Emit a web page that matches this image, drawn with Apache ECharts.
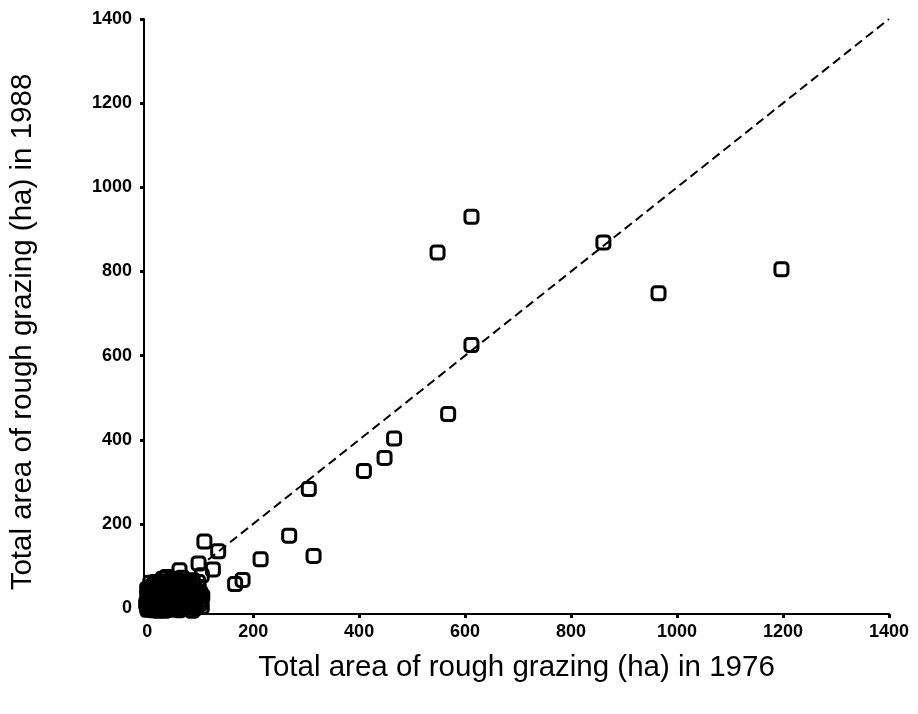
<!DOCTYPE html>
<html>
<head>
<meta charset="utf-8">
<title>Rough grazing 1976 vs 1988</title>
<script src="https://cdn.jsdelivr.net/npm/echarts@6/dist/echarts.min.js"></script>
<style>
  html, body { margin: 0; padding: 0; background: #fff; }
  #chart { width: 918px; height: 714px; }
</style>
</head>
<body>
<div id="chart"></div>
<script>
// Total area of rough grazing per holding (ha): 1976 (x) against 1988 (y)
const area1976 = [
  108, 134, 214, 268, 314, 305, 409, 448, 466, 568, 612, 548, 612, 861, 965, 1197,
  166, 180, 124, 97, 61, 103, 100, 96, 103, 100, 37, 15,
  0, 3, 6, 10, 12, 15, 18, 20, 22, 25, 28, 30, 32, 35, 38, 40, 42, 45, 48, 50,
  52, 55, 58, 60, 62, 65, 68, 70, 72, 75, 78, 80, 82, 85, 88, 90, 92, 95,
  5, 8, 12, 18, 24, 30, 2, 0, 6, 15, 44, 55, 66, 76, 86, -2, 0, 26, 36, 48,
  58, 70, 80, 90, 10, 40,
  4, 9, 14, 16, 21, 27, 33, 36, 41, 46, 51, 56, 61, 63, 67, 71, 74, 79, 83, 87,
  91, 94, 97, 2, 7, 11, 19, 23, 29, 34, 39, 43, 47, 53, 57, 64, 69, 73, 84, 99,
  104, 1, 20, 33, 60, 85
];
const area1988 = [
  158, 135, 116, 172, 124, 283, 326, 357, 403, 461, 625, 845, 930, 869, 748, 805,
  57, 67, 92, 106, 90, 78, 19, 62, 3, 36, 74, 62,
  0, 8, 2, 15, 4, 22, 10, 0, 30, 14, 40, 5, 22, 48, 12, 30, 2, 20, 38, 8,
  50, 26, 14, 42, 4, 30, 55, 18, 8, 40, 26, 60, 12, 34, 48, 22, 6, 40,
  25, 40, 55, 48, 62, 70, 18, 45, 60, 35, 62, 70, 72, 52, 66, 10, 30, 0, 0, 0,
  0, 0, 2, 0, -5, -4,
  4, 9, 0, 12, 6, 18, 8, 28, 15, 6, 32, 44, 24, 10, 40, 28, 16, 4, 22, 30,
  14, 26, 50, 36, 50, 28, 58, 44, 52, 60, 56, 44, 68, 58, 36, 48, 64, 46, 56, 10,
  28, -4, -6, -6, -5, -6
];

// 1:1 reference line (equal area in both years)
const equalLine = [[115, 115], [1400, 1400]];

const tickValues = [0, 200, 400, 600, 800, 1000, 1200, 1400];
const xTitle = 'Total area of rough grazing (ha) in 1976';
const yTitle = 'Total area of rough grazing (ha) in 1988';

const points = area1976.map((x, i) => [x, area1988[i]]);

const chart = echarts.init(document.getElementById('chart'), null, { renderer: 'canvas' });

const labelStyle = {
  customValues: tickValues,
  fontFamily: 'Liberation Sans',
  fontSize: 18,
  fontWeight: 'bold',
  color: '#000',
  formatter: v => String(v)
};

const axisCommon = {
  type: 'value',
  splitLine: { show: false },
  axisLine: { show: true, onZero: false, lineStyle: { color: '#000', width: 2 } },
  axisTick: { show: true, customValues: tickValues, length: 4, lineStyle: { color: '#000', width: 3 } }
};

chart.setOption({
  animation: false,
  backgroundColor: '#fff',
  grid: { left: 144, right: 29, top: 19, bottom: 100, containLabel: false, outerBoundsMode: 'none' },
  xAxis: Object.assign({}, axisCommon, {
    min: -6, max: 1400,
    name: xTitle, nameLocation: 'middle', nameGap: 39,
    nameTextStyle: { fontFamily: 'Liberation Sans', fontSize: 29.5, color: '#000' },
    axisLabel: Object.assign({ margin: 9 }, labelStyle)
  }),
  yAxis: Object.assign({}, axisCommon, {
    min: -14, max: 1400,
    axisLabel: Object.assign({ margin: 12 }, labelStyle)
  }),
  graphic: [{
    type: 'text',
    x: 23, y: 332,
    rotation: Math.PI / 2,
    style: {
      text: yTitle,
      fontFamily: 'Liberation Sans',
      fontSize: 29.5,
      fill: '#000',
      align: 'center',
      verticalAlign: 'middle'
    }
  }],
  series: [
    {
      type: 'line',
      data: equalLine,
      symbol: 'none',
      silent: true,
      lineStyle: { color: '#000', width: 2, type: [9, 5] },
      z: 1
    },
    {
      type: 'scatter',
      data: points,
      symbol: 'roundRect',
      symbolSize: 13,
      itemStyle: { color: 'rgba(0,0,0,0)', borderColor: '#000', borderWidth: 3, opacity: 1 },
      z: 2
    }
  ]
});
</script>
</body>
</html>
